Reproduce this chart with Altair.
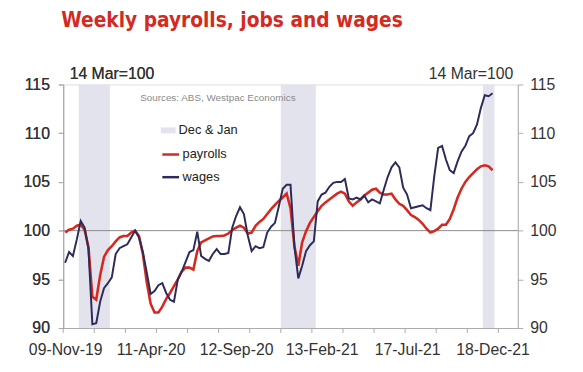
import altair as alt
import pandas as pd

# ---------------- data ----------------
start_date = "2019-11-09"  # weekly observations, 14 Mar 2020 = 100

payrolls = [
    99.8, 100.1, 100.2, 100.5, 100.6, 100.1, 98.3, 93.2, 92.9, 95.4,
    97.3, 98.0, 98.4, 98.9, 99.3, 99.45, 99.45, 99.8, 100.0, 99.45,
    97.6, 94.7, 92.5, 91.6, 91.6, 92.2, 93.0, 93.6, 94.3, 95.0,
    95.8, 96.2, 96.2, 96.0, 97.9, 98.8, 99.0, 99.2, 99.4, 99.45,
    99.45, 99.5, 99.7, 100.05, 100.3, 100.5, 100.3, 99.7, 99.8, 100.5,
    100.9, 101.2, 101.7, 102.2, 102.65, 103.05, 103.4, 103.8, 102.3, 98.4,
    96.4, 98.8, 99.95, 100.8, 101.4, 102.0, 102.55, 102.9, 103.2, 103.5,
    103.8, 104.0, 103.8, 103.0, 102.55, 102.9, 103.2, 103.6, 103.9, 104.2,
    104.3, 103.9, 103.7, 103.7, 103.8, 103.2, 102.75, 102.55, 102.1, 101.6,
    101.4, 101.1, 100.7, 100.2, 99.8, 99.95, 100.2, 100.6, 100.6, 101.2,
    102.2, 103.4, 104.3, 105.0, 105.5, 105.9, 106.3, 106.6, 106.7, 106.6,
    106.2,
]

wages = [
    96.7, 97.8, 97.4, 99.1, 101.0, 100.3, 98.1, 90.4, 90.5, 92.7,
    94.1, 94.6, 95.2, 97.6, 98.2, 98.4, 98.6, 99.3, 100.0, 99.3,
    97.8, 95.7, 93.5, 93.8, 94.4, 94.6, 93.6, 92.9, 92.7, 95.0,
    95.8, 96.8, 97.8, 98.0, 99.9, 97.4, 97.1, 96.9, 97.6, 98.1,
    97.6, 97.6, 97.7, 100.3, 101.5, 102.4, 101.7, 99.5, 97.9, 98.4,
    98.2, 98.3, 99.8, 100.4, 100.8, 102.5, 104.3, 104.7, 104.7, 98.4,
    95.1, 96.4, 97.9, 98.5, 98.9, 103.0, 103.7, 103.9, 104.5, 104.9,
    105.0, 105.0, 105.3, 103.3, 103.2, 103.4, 103.2, 103.6, 102.9, 103.2,
    103.0, 102.8, 104.2, 105.5, 106.5, 107.0, 106.5, 104.4, 103.7, 102.3,
    102.4, 102.5, 102.6, 102.3, 102.1, 105.6, 108.5, 108.7, 107.3, 106.2,
    105.9, 107.1, 108.1, 108.7, 109.7, 110.0, 110.9, 112.6, 113.9, 113.8,
    114.1,
]

series_names = ["payrolls", "wages"]
band_label = "Dec & Jan"
band_starts = ["2019-12-03T12:00:00", "2020-12-01T12:00:00", "2021-11-30T12:00:00"]
band_ends = ["2020-01-28T12:00:00", "2021-02-02T12:00:00", "2021-12-21T12:00:00"]

x_label_dates = ["2019-11-09", "2020-04-11", "2020-09-12", "2021-02-13", "2021-07-17", "2021-12-18"]
x_tick_start = "2019-11-05T12:00:00"   # tick marks every 8 weeks
x_tick_count = 15
x_domain = ["2019-11-05T12:00:00", "2022-02-01T12:00:00"]
y_ticks = [90, 95, 100, 105, 110, 115]
base_level = [100]

title_text = "Weekly payrolls, jobs and wages"
source_text = "Sources: ABS, Westpac Economics"
axis_note = "14 Mar=100"

# ---------------- tables ----------------
dates = pd.date_range(start_date, periods=len(wages), freq="7D")
n = len(dates)
df = pd.DataFrame({
    "date": list(dates) * 2,
    "series": [series_names[0]] * n + [series_names[1]] * n,
    "value": payrolls + wages,
})
bands = pd.DataFrame({"start": pd.to_datetime(band_starts), "end": pd.to_datetime(band_ends), "lab": band_label})
ticks = pd.DataFrame({"date": pd.date_range(x_tick_start, periods=x_tick_count, freq="56D")})
base_df = pd.DataFrame({"v": base_level})


def dt(s):
    t = pd.Timestamp(s)
    return alt.DateTime(year=t.year, month=t.month, date=t.day, hours=t.hour)


W, H = 461, 247
RED = "#d6281f"
NAVY = "#2b2c5c"
BAND = "#e3e3ed"
FRAME = "#ababab"
TXT = "#333333"
FONT = "Liberation Sans"
TITLE_FONT = "'Liberation Sans Narrow', 'DejaVu Sans Condensed', 'Roboto Condensed', Roboto, sans-serif"

xscale = alt.Scale(domain=[dt(x_domain[0]), dt(x_domain[1])])
yscale = alt.Scale(domain=[90, 115], nice=False, zero=False)

x_axis = alt.Axis(
    values=[dt(d) for d in x_label_dates], format="%d-%b-%y", title=None,
    tickSize=0, labelFontSize=16, labelColor=TXT, labelFont=FONT, labelPadding=14,
    domainColor=FRAME, grid=False, labelFlush=False, labelOverlap=False,
)

left_axis = alt.Axis(
    values=y_ticks, orient="left", title=axis_note, titleAngle=0, titleX=6, titleY=-6,
    titleAlign="left", titleBaseline="alphabetic", titleFontSize=16, titleFontWeight="normal",
    titleColor=TXT, titleFont=FONT, labelFontSize=16, labelColor=TXT, labelFont=FONT,
    tickSize=5, tickColor=FRAME, domainColor=FRAME, labelPadding=9, grid=False,
)
right_axis = alt.Axis(
    values=y_ticks, orient="right", title=axis_note, titleAngle=0, titleX=-5, titleY=-6,
    titleAlign="right", titleBaseline="alphabetic", titleFontSize=16, titleFontWeight="normal",
    titleColor=TXT, titleFont=FONT, labelFontSize=16, labelColor=TXT, labelFont=FONT,
    tickSize=5, tickColor=FRAME, domainColor=FRAME, labelPadding=7, grid=False,
)

band_layer = alt.Chart(bands).mark_rect(opacity=1).encode(
    x=alt.X("start:T", scale=xscale, axis=x_axis),
    x2="end:T",
    y=alt.value(0),
    y2=alt.value(H),
    fill=alt.Fill("lab:N", scale=alt.Scale(range=[BAND]), legend=alt.Legend(
        title=None, orient="none", legendX=99, legendY=39, padding=0,
        symbolType="M-1,-0.4H1V0.4H-1Z", symbolSize=225, symbolStrokeWidth=0,
        labelFontSize=13, labelColor="#222222", labelFont=FONT, labelOffset=3,
    )),
)

base_rule = alt.Chart(base_df).mark_rule(color="#8c8c8c", strokeWidth=1).encode(
    y=alt.Y("v:Q", scale=yscale, axis=right_axis),
)

color_scale = alt.Scale(domain=series_names, range=[RED, NAVY])
line_legend = alt.Legend(
    title=None, orient="none", legendX=99, legendY=61, padding=0,
    symbolType="stroke", symbolSize=289, symbolStrokeWidth=2.5, rowPadding=6,
    labelFontSize=13, labelColor="#222222", labelFont=FONT, labelOffset=2,
)

line_base = alt.Chart(df).encode(
    x=alt.X("date:T", scale=xscale),
    y=alt.Y("value:Q", scale=yscale, axis=left_axis),
    color=alt.Color("series:N", scale=color_scale, legend=line_legend),
)
pay_line = line_base.transform_filter(alt.datum.series == series_names[0]).mark_line(strokeWidth=2.6)
wage_line = line_base.transform_filter(alt.datum.series == series_names[1]).mark_line(strokeWidth=2.0)

tick_layer = alt.Chart(ticks).mark_rule(color=FRAME, strokeWidth=1).encode(
    x=alt.X("date:T", scale=xscale),
    y=alt.value(H),
    y2=alt.value(H + 5),
)

source_layer = alt.Chart(base_df).mark_text(
    align="left", baseline="middle", fontSize=10, color="#8a8a8a", font=FONT
).encode(x=alt.value(78), y=alt.value(14), text=alt.value(source_text))

chart = alt.layer(
    band_layer, base_rule, pay_line, wage_line, tick_layer, source_layer
).resolve_axis(y="independent").resolve_scale(y="shared").properties(
    width=W, height=H,
    autosize=alt.AutoSizeParams(type="none"),
    padding={"left": 56, "top": 75, "right": 58, "bottom": 42},
    title=alt.TitleParams(
        title_text, anchor="start", frame="group", font=TITLE_FONT,
        fontSize=21, fontWeight="bold", color="#d42a1f", dx=-2, offset=35,
    ),
).configure_view(stroke=FRAME, strokeWidth=1).configure(background="white")

chart.save("out.html", embed_options={"renderer": "svg", "actions": False})
